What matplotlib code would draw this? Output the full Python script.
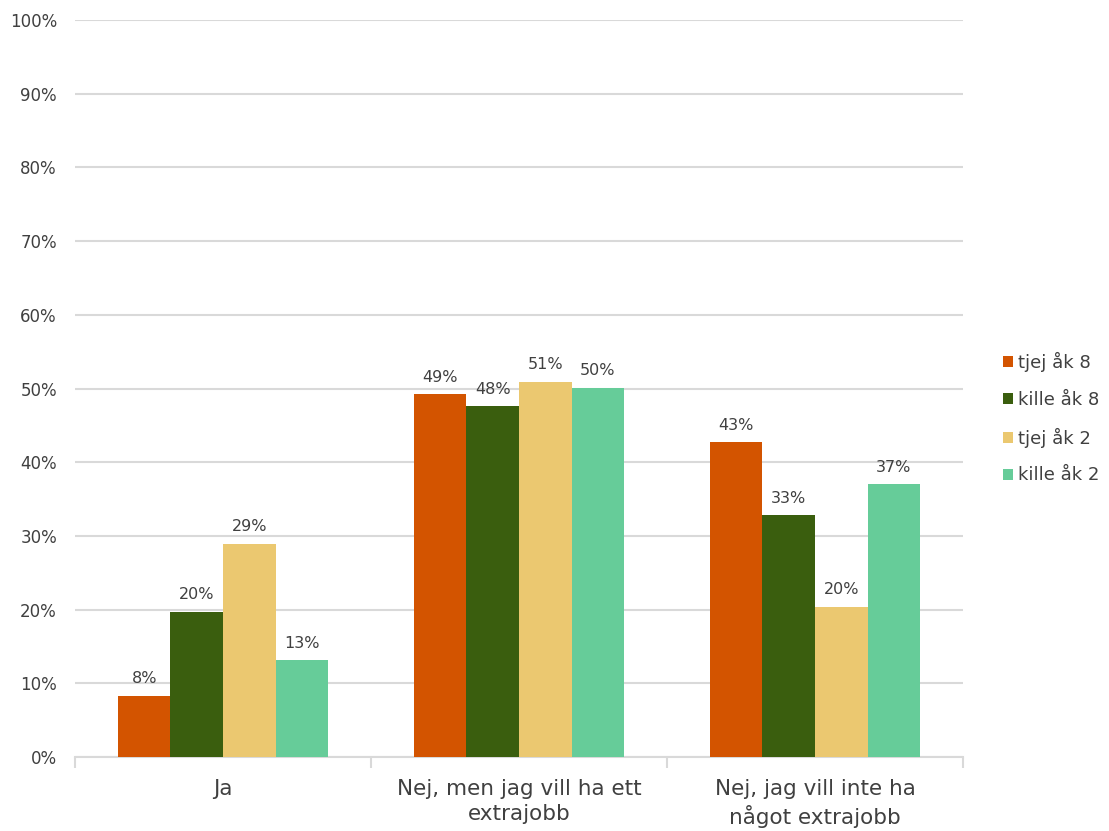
import numpy as np
import matplotlib
matplotlib.use("Agg")
import matplotlib.pyplot as plt
from matplotlib.ticker import MultipleLocator, FuncFormatter

plt.rcParams['font.family'] = ['DejaVu Sans']

categories = ["Ja", "Nej, men jag vill ha ett\nextrajobb", "Nej, jag vill inte ha\nnågot extrajobb"]
series = ["tjej åk 8", "kille åk 8", "tjej åk 2", "kille åk 2"]
colors = ["#D35400", "#3A5E0E", "#EBC870", "#66CC99"]
tjej8 = [8.3, 49.2, 42.7]
kille8 = [19.7, 47.6, 32.8]
tjej2 = [28.9, 50.9, 20.4]
kille2 = [13.1, 50.1, 37.0]
labels = [["8%", "49%", "43%"], ["20%", "48%", "33%"], ["29%", "51%", "20%"], ["13%", "50%", "37%"]]

values = [tjej8, kille8, tjej2, kille2]
text_col = "#404040"

fig = plt.figure(figsize=(11.09, 8.31), dpi=100)
ax = fig.add_axes([75/1109, 74/831, 888/1109, 737/831])

x = np.arange(len(categories))
w = 0.1775
for i, (vals, col, name) in enumerate(zip(values, colors, series)):
    pos = x + (i - 1.5) * w
    ax.bar(pos, vals, width=w, color=col, label=name, zorder=3)
    for p, v, t in zip(pos, vals, labels[i]):
        ax.text(p, v + 1.3, t, ha='center', va='bottom', fontsize=11.5, color=text_col)

ax.set_xlim(-0.5, 2.5)
ax.set_ylim(0, 100)
ax.yaxis.set_major_locator(MultipleLocator(10))
ax.yaxis.set_major_formatter(FuncFormatter(lambda v, p: f"{int(v)}%"))
ax.grid(axis='y', color='#D9D9D9', linewidth=1.5, zorder=0)
for s in ['top', 'right', 'left']:
    ax.spines[s].set_visible(False)
ax.spines['bottom'].set_color('#D9D9D9')
ax.spines['bottom'].set_linewidth(1.5)
ax.tick_params(axis='y', length=0, labelsize=12, labelcolor=text_col, pad=13)

ax.set_xticks(x)
ax.set_xticklabels(categories, fontsize=15.5, color=text_col, linespacing=1.3)
ax.tick_params(axis='x', length=0, pad=16)
ax.set_xticks([-0.5, 0.5, 1.5, 2.5], minor=True)
ax.tick_params(axis='x', which='minor', length=8, color='#D9D9D9', width=1.5)

leg = ax.legend(loc='center left', bbox_to_anchor=(1.037, 0.46), frameon=False,
                fontsize=13, handlelength=0.55, handleheight=0.55, handletextpad=0.3,
                labelspacing=1.05, borderaxespad=0)
for t in leg.get_texts():
    t.set_color(text_col)

fig.savefig("out.png", dpi=100)
